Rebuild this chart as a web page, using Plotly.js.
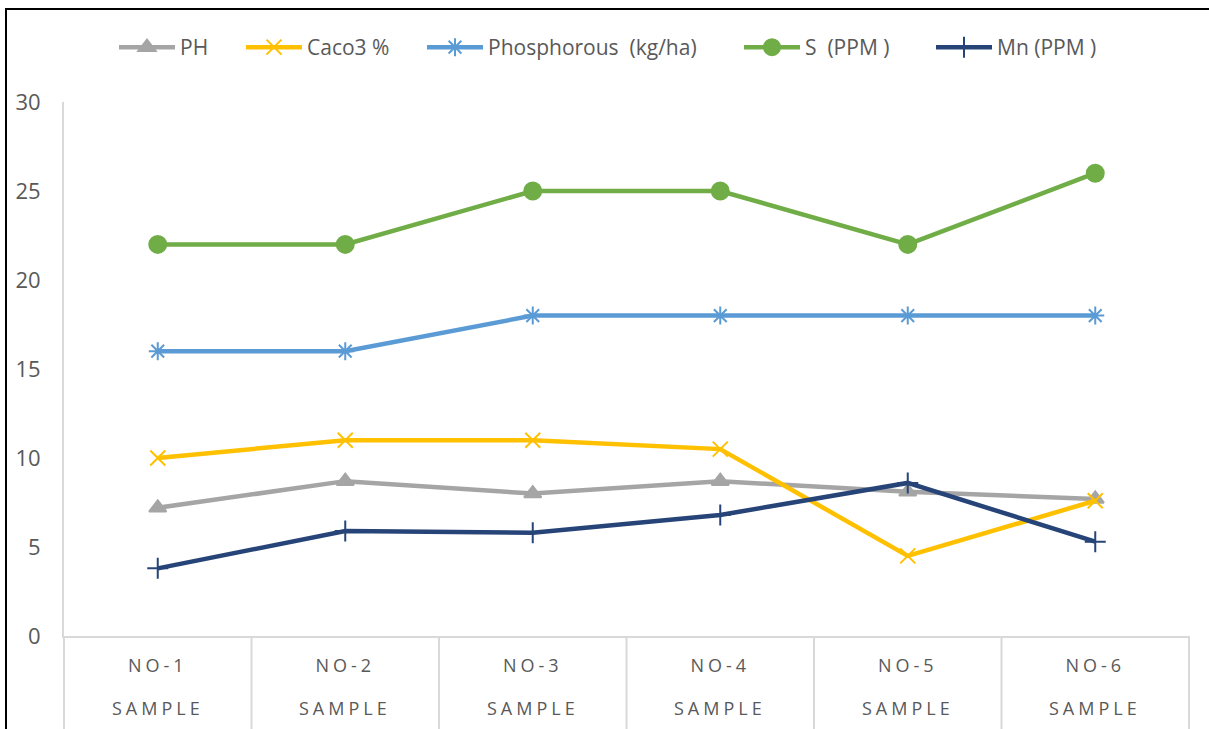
<!DOCTYPE html>
<html>
<head>
<meta charset="utf-8">
<script src="https://cdn.plot.ly/plotly-3.0.1.min.js"></script>
<style>
  html, body { margin: 0; padding: 0; background: #fff; }
  #chart { width: 1209px; height: 729px; }
  .xtick text, .annotation-text { letter-spacing: 4px; }
</style>
</head>
<body>
<div id="chart"></div>
<script>
const categories = ["NO-1", "NO-2", "NO-3", "NO-4", "NO-5", "NO-6"];
const subLabel = "SAMPLE";
const seriesNames = ["PH", "Caco3 %", "Phosphorous \u00A0(kg/ha)", "S \u00A0(PPM )", "Mn (PPM )"];
const ph = [7.2, 8.7, 8.0, 8.7, 8.1, 7.7];
const caco3 = [10, 11, 11, 10.5, 4.5, 7.6];
const phosphorous = [16, 16, 18, 18, 18, 18];
const sulphur = [22, 22, 25, 25, 22, 26];
const mn = [3.8, 5.9, 5.8, 6.8, 8.6, 5.3];
const yTicks = [0, 5, 10, 15, 20, 25, 30];

const colors = ["#A5A5A5", "#FFC000", "#5B9BD5", "#70AD47", "#264478"];
const symbols = ["triangle-up", "x-thin-open", "asterisk-open", "circle", "cross-thin-open"];
const sizes = [15, 15, 15, 17, 15];
const legendStarts = [120, 247, 428, 745, 937];
const values = [ph, caco3, phosphorous, sulphur, mn];

const W = 1209, H = 729, L = 64, R = 20, T = 102, B = 93;
const pw = W - L - R, ph_ = H - T - B;

const traces = values.map((v, i) => ({
  type: "scatter",
  mode: "lines+markers",
  x: categories,
  y: v,
  name: seriesNames[i],
  legend: i === 0 ? "legend" : "legend" + (i + 1),
  line: { color: colors[i], width: 4.5 },
  marker: { symbol: symbols[i], size: sizes[i], color: colors[i], line: { color: colors[i], width: 2 } }
}));

const shapes = [];
for (let i = 0; i <= categories.length; i++) {
  shapes.push({
    type: "line", xref: "paper", yref: "paper",
    x0: i / categories.length, x1: i / categories.length,
    y0: 0, y1: -(B + 5) / ph_,
    line: { color: "#D9D9D9", width: 2 }
  });
}
shapes.push({
  type: "rect", xref: "paper", yref: "paper",
  x0: (6 - L) / pw, x1: (W + 10 - L) / pw,
  y0: -(B + 10) / ph_, y1: (H - 9 - B) / ph_,
  line: { color: "#000", width: 2 }, fillcolor: "rgba(0,0,0,0)"
});

const annotations = categories.map(c => ({
  x: c, xref: "x", yref: "paper",
  y: -(708 - (H - B)) / ph_, yanchor: "middle",
  text: subLabel, showarrow: false,
  font: { family: "Open Sans", size: 18, color: "#595959" }
}));

const layout = {
  width: W, height: H,
  margin: { l: L, r: R, t: T, b: B },
  paper_bgcolor: "#fff", plot_bgcolor: "#fff",
  showlegend: true,
  xaxis: {
    type: "category", range: [-0.5, 5.5],
    showgrid: false, zeroline: false,
    showline: true, linecolor: "#D9D9D9", linewidth: 2,
    ticks: "", ticklabelstandoff: 12,
    tickfont: { family: "Open Sans", size: 18, color: "#595959" }
  },
  yaxis: {
    range: [0, 30], tickvals: yTicks, ticktext: yTicks.map(String),
    showgrid: false, zeroline: false,
    showline: true, linecolor: "#D9D9D9", linewidth: 2,
    ticks: "", ticklabelstandoff: 17,
    tickfont: { family: "Open Sans", size: 22, color: "#595959" }
  },
  shapes: shapes,
  annotations: annotations
};

legendStarts.forEach((sx, i) => {
  const key = i === 0 ? "legend" : "legend" + (i + 1);
  layout[key] = {
    orientation: "h",
    xref: "container", x: (sx - 6) / W, xanchor: "left",
    yref: "container", y: 1 - 27 / H, yanchor: "top",
    font: { family: "Open Sans", size: 21, color: "#595959" },
    itemwidth: 56, bgcolor: "rgba(0,0,0,0)"
  };
});

Plotly.newPlot("chart", traces, layout, { displayModeBar: false, staticPlot: true });
</script>
</body>
</html>
